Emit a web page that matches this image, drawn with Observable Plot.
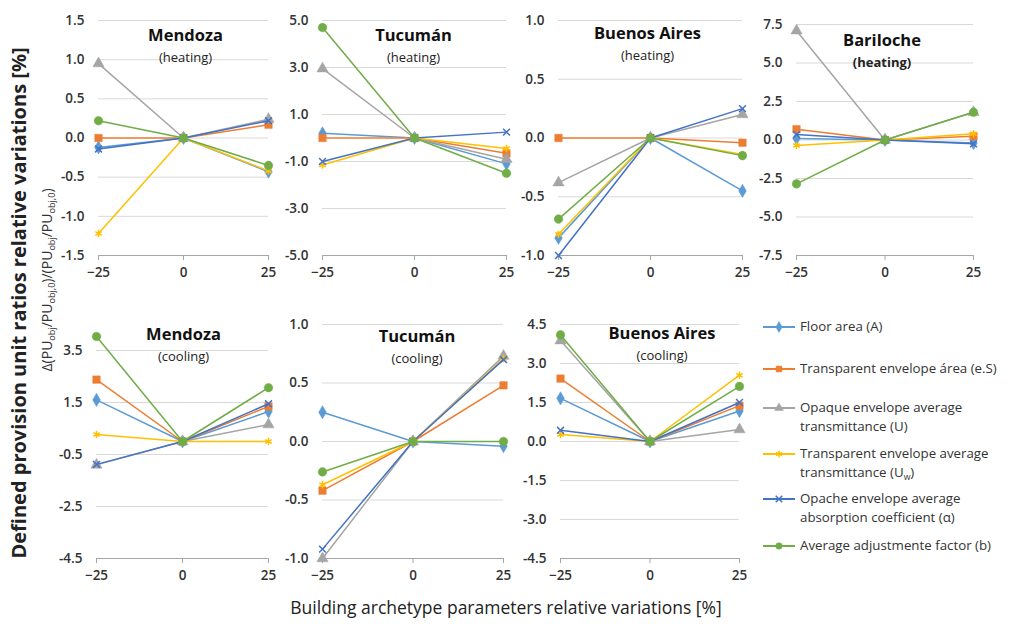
<!DOCTYPE html>
<html><head><meta charset="utf-8">
<script src="https://cdn.jsdelivr.net/npm/d3@7"></script>
<script src="https://cdn.jsdelivr.net/npm/@observablehq/plot@0.6"></script>
<style>
body{margin:0;background:#fff;}
#chart{position:relative;width:1011px;height:624px;overflow:hidden;font-family:"Open Sans",sans-serif;color:#262626;}
.panel{position:absolute;}
.rot{position:absolute;transform:translate(-50%,-50%) rotate(-90deg);white-space:nowrap;}
.legend{position:absolute;left:762px;top:312px;font-size:13.3px;color:#333;line-height:19px;}
.legend .item{position:absolute;left:0;display:flex;align-items:flex-start;width:250px;}
.legend svg{flex:none;margin-right:4px;}
sub{font-size:65%;vertical-align:-3px;line-height:0;}
</style></head><body><div id="chart"></div><script>
// ---- data ----
const xVariations = [-25, 0, 25];
const seriesNames = ["Floor area (A)", "Transparent envelope área (e.S)", "Opaque envelope average transmittance (U)", "Transparent envelope average transmittance (Uw)", "Opache envelope average absorption coefficient (α)", "Average adjustmente factor (b)"];
const seriesColors = ["#5B9BD5", "#ED7D31", "#A5A5A5", "#FFC000", "#4472C4", "#70AD47"];
const seriesSymbols = ["diamond", "square", "triangle", "asterisk", "times", "circle"];

// one triple (at -25, 0, 25) per series, series order as seriesNames
const mendozaHeating = [[-0.12,0,-0.43],[0,0,0.17],[0.95,0,0.24],[-1.22,0,-0.42],[-0.14,0,0.22],[0.22,0,-0.35]];
const tucumanHeating = [[0.2,0,-1.1],[0,0,-0.65],[2.95,0,-0.9],[-1.15,0,-0.45],[-1.0,0,0.25],[4.7,0,-1.5]];
const buenosAiresHeating = [[-0.85,0,-0.45],[0,0,-0.04],[-0.38,0,0.2],[-0.82,0,-0.14],[-1.0,0,0.25],[-0.69,0,-0.15]];
const barilocheHeating = [[0.1,0,-0.2],[0.7,0,0.25],[7.1,0,1.8],[-0.35,0,0.4],[0.35,0,-0.25],[-2.85,0,1.8]];
const mendozaCooling = [[1.6,0,1.15],[2.38,0,1.35],[-0.9,0,0.65],[0.27,0,0],[-0.88,0,1.45],[4.04,0,2.07]];
const tucumanCooling = [[0.25,0,-0.04],[-0.42,0,0.48],[-1.0,0,0.73],[-0.37,0,0.71],[-0.92,0,0.7],[-0.26,0,0]];
const buenosAiresCooling = [[1.66,0,1.17],[2.42,0,1.38],[3.88,0,0.46],[0.27,0,2.55],[0.43,0,1.5],[4.1,0,2.12]];

const mendozaHeatingTicks = [-1.5,-1,-0.5,0,0.5,1,1.5];
const tucumanHeatingTicks = [-5,-3,-1,1,3,5];
const buenosAiresHeatingTicks = [-1,-0.5,0,0.5,1];
const barilocheHeatingTicks = [-7.5,-5,-2.5,0,2.5,5,7.5];
const mendozaCoolingTicks = [-4.5,-2.5,-0.5,1.5,3.5];
const tucumanCoolingTicks = [-1,-0.5,0,0.5,1];
const buenosAiresCoolingTicks = [-4.5,-3,-1.5,0,1.5,3,4.5];

// ---- layout ----
const panels = [
  {values: mendozaHeating, ticks: mendozaHeatingTicks, domain: [-1.5,1.5], city: "Mendoza", mode: "(heating)", left: 98, right: 268, top: 20, bottom: 255, dx: 2, dy: 15},
  {values: tucumanHeating, ticks: tucumanHeatingTicks, domain: [-5,5], city: "Tucumán", mode: "(heating)", left: 322, right: 506, top: 20, bottom: 255, dx: -1, dy: 15},
  {values: buenosAiresHeating, ticks: buenosAiresHeatingTicks, domain: [-1,1], city: "Buenos Aires", mode: "(heating)", left: 558, right: 742, top: 20, bottom: 255, dx: -3, dy: 13},
  {values: barilocheHeating, ticks: barilocheHeatingTicks, domain: [-7.5,7.5], city: "Bariloche", mode: "(heating)", left: 796, right: 973, top: 24, bottom: 255, dx: -3, dy: 16, boldMode: true},
  {values: mendozaCooling, ticks: mendozaCoolingTicks, domain: [-4.5,4.5], city: "Mendoza", mode: "(cooling)", left: 96, right: 268, top: 324, bottom: 558, dx: 1, dy: 10},
  {values: tucumanCooling, ticks: tucumanCoolingTicks, domain: [-1,1], city: "Tucumán", mode: "(cooling)", left: 322, right: 503, top: 324, bottom: 558, dx: 4, dy: 12},
  {values: buenosAiresCooling, ticks: buenosAiresCoolingTicks, domain: [-4.5,4.5], city: "Buenos Aires", mode: "(cooling)", left: 560, right: 739, top: 324, bottom: 558, dx: 12, dy: 9}
];

const chart = document.getElementById("chart");
const mL = 50, mR = 14, mT = 10, mB = 32;

function symbolFill(sym, color) {
  return (sym === "asterisk" || sym === "times") ? {stroke: color, fill: "none", strokeWidth: 1.5} : {fill: color, stroke: color, strokeWidth: 0.5};
}
function symbolR(sym) {
  return {diamond: 4, square: 4.2, triangle: 4.2, asterisk: 3.5, times: 3.2, circle: 4.3}[sym];
}

panels.forEach(p => {
  const marks = [
    Plot.gridY(p.ticks.filter(t => t !== p.domain[0]), {stroke: "#d9d9d9", strokeOpacity: 1, strokeWidth: 1}),
    Plot.ruleY([p.domain[0]], {stroke: "#a6a6a6", strokeWidth: 1.2}),
    Plot.axisX(xVariations, {label: null, tickSize: 5, tickPadding: 7, stroke: "#a6a6a6", fontSize: 13.5, fill: "#333", fontWeight: 600}),
    Plot.axisY(p.ticks, {label: null, tickSize: 0, tickPadding: 14, tickFormat: d => d.toFixed(1), fontSize: 13.5, fill: "#333", fontWeight: 600})
  ];
  p.values.forEach((vals, si) => {
    const rows = vals.map((v, i) => ({x: xVariations[i], y: v}));
    marks.push(Plot.line(rows, {x: "x", y: "y", stroke: seriesColors[si], strokeWidth: 1.5}));
    marks.push(Plot.dot(rows, {x: "x", y: "y", symbol: seriesSymbols[si], r: symbolR(seriesSymbols[si]), ...symbolFill(seriesSymbols[si], seriesColors[si])}));
  });
  marks.push(Plot.text([p.city], {frameAnchor: "top", dx: p.dx, dy: p.dy, fontSize: 16.5, fontWeight: 700, fill: "#111", lineAnchor: "middle"}));
  marks.push(Plot.text([p.mode], {frameAnchor: "top", dx: p.dx, dy: p.dy + 22, fontSize: 13, fontWeight: p.boldMode ? 700 : 400, fill: "#222", lineAnchor: "middle"}));
  const svg = Plot.plot({
    width: p.right - p.left + mL + mR,
    height: p.bottom - p.top + mT + mB,
    marginLeft: mL, marginRight: mR, marginTop: mT, marginBottom: mB,
    x: {domain: [-25, 25], label: null},
    y: {domain: p.domain, label: null},
    style: {fontFamily: "Open Sans", background: "transparent", overflow: "visible"},
    marks
  });
  svg.classList.add("panel");
  svg.style.left = (p.left - mL) + "px";
  svg.style.top = (p.top - mT) + "px";
  chart.appendChild(svg);
});

// axis titles
const yTitle = document.createElement("div");
yTitle.className = "rot";
yTitle.style.cssText += "left:18px;top:303px;font-size:20px;font-weight:700;color:#222;";
yTitle.textContent = "Defined provision unit ratios relative variations [%]";
chart.appendChild(yTitle);

const ySub = document.createElement("div");
ySub.className = "rot";
ySub.style.cssText += "left:46px;top:280px;font-size:14px;color:#333;";
ySub.innerHTML = "Δ(PU<sub>obj</sub>/PU<sub>obj,0</sub>)/(PU<sub>obj</sub>/PU<sub>obj,0</sub>)";
chart.appendChild(ySub);

const xTitle = document.createElement("div");
xTitle.style.cssText = "position:absolute;left:506px;top:607px;transform:translate(-50%,-50%);font-size:17.5px;color:#222;white-space:nowrap;";
xTitle.textContent = "Building archetype parameters relative variations [%]";
chart.appendChild(xTitle);

// legend
const legendLabels = ["Floor area (A)", "Transparent envelope área (e.S)", "Opaque envelope average<br>transmittance (U)", "Transparent envelope average<br>transmittance (U<sub>w</sub>)", "Opache envelope average<br>absorption coefficient (α)", "Average adjustmente factor (b)"];
const legendTops = [5, 47, 86, 132, 177, 224];
const legend = document.createElement("div");
legend.className = "legend";
const symMap = {diamond: d3.symbolDiamond, square: d3.symbolSquare, triangle: d3.symbolTriangle, asterisk: d3.symbolAsterisk, times: d3.symbolTimes, circle: d3.symbolCircle};
seriesNames.forEach((name, i) => {
  const item = document.createElement("div");
  item.className = "item";
  item.style.top = legendTops[i] + "px";
  const sym = seriesSymbols[i];
  const path = d3.symbol(symMap[sym], sym === "asterisk" || sym === "times" ? 30 : 34)();
  const stroked = sym === "asterisk" || sym === "times";
  item.innerHTML = `<svg width="34" height="19"><line x1="1" x2="33" y1="10" y2="10" stroke="${seriesColors[i]}" stroke-width="2"/><path transform="translate(17,10)" d="${path}" fill="${stroked ? "none" : seriesColors[i]}" stroke="${seriesColors[i]}" stroke-width="${stroked ? 1.5 : 0.5}"/></svg><span title="${name}">${legendLabels[i]}</span>`;
  legend.appendChild(item);
});
chart.appendChild(legend);
</script></body></html>
